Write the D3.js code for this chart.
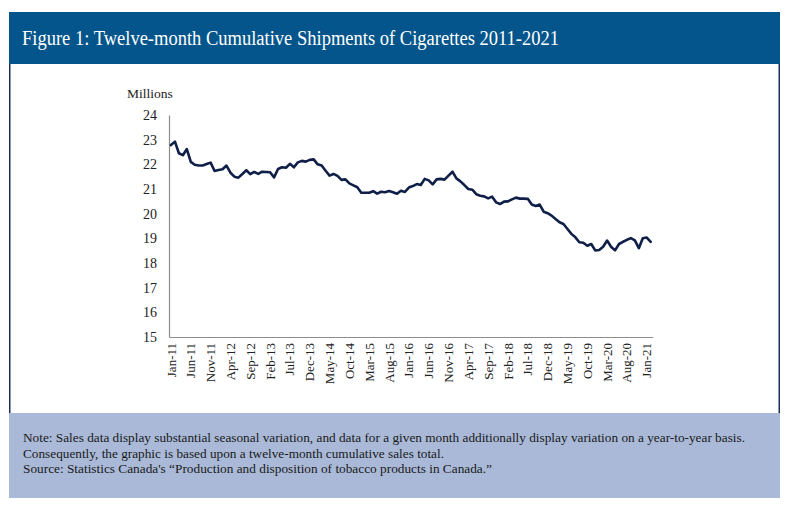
<!DOCTYPE html>
<html>
<head>
<meta charset="utf-8">
<script src="https://cdn.jsdelivr.net/npm/d3@7"></script>
<style>
  html, body { margin: 0; padding: 0; background: #ffffff; }
  svg { display: block; }
</style>
</head>
<body>
<svg id="chart" width="800" height="515"></svg>
<script>
// ---------- data ----------
const startMonth = "2011-01";
const endMonth = "2021-02";
const yTicks = [15, 16, 17, 18, 19, 20, 21, 22, 23, 24];
const tickEvery = 5;
const shipments = [
  // 2011
  22.78, 22.92, 22.45, 22.37, 22.62, 22.10, 21.98, 21.95, 21.95, 22.01, 22.07, 21.73,
  // 2012
  21.77, 21.80, 21.95, 21.66, 21.50, 21.46, 21.61, 21.76, 21.60, 21.69, 21.61, 21.70,
  // 2013
  21.69, 21.68, 21.47, 21.81, 21.88, 21.86, 22.02, 21.88, 22.08, 22.14, 22.11, 22.18,
  // 2014
  22.20, 22.00, 21.95, 21.74, 21.54, 21.61, 21.53, 21.37, 21.39, 21.23, 21.15, 21.07,
  // 2015
  20.85, 20.85, 20.85, 20.91, 20.81, 20.89, 20.87, 20.92, 20.87, 20.81, 20.93, 20.88,
  // 2016
  21.06, 21.12, 21.20, 21.16, 21.41, 21.35, 21.19, 21.39, 21.41, 21.38, 21.54, 21.70,
  // 2017
  21.43, 21.31, 21.16, 21.00, 20.97, 20.79, 20.73, 20.70, 20.62, 20.69, 20.46, 20.39,
  // 2018
  20.49, 20.50, 20.58, 20.65, 20.61, 20.61, 20.60, 20.37, 20.31, 20.37, 20.08, 20.02,
  // 2019
  19.92, 19.78, 19.65, 19.58, 19.38, 19.18, 19.04, 18.84, 18.82, 18.70, 18.77, 18.51,
  // 2020
  18.53, 18.66, 18.91, 18.66, 18.51, 18.77, 18.86, 18.94, 19.01, 18.92, 18.60, 19.00,
  // 2021
  19.03, 18.86
];
const titleText = "Figure 1: Twelve-month Cumulative Shipments of Cigarettes 2011-2021";
const yAxisTitle = "Millions";
const noteLines = [
  "Note: Sales data display substantial seasonal variation, and data for a given month additionally display variation on a year-to-year basis.",
  "Consequently, the graphic is based upon a twelve-month cumulative sales total."
];
const sourceText = "Source: Statistics Canada's \u201cProduction and disposition of tobacco products in Canada.\u201d";

// ---------- build ----------
const parseM = d3.timeParse("%Y-%m");
const months = d3.timeMonth.range(parseM(startMonth), d3.timeMonth.offset(parseM(endMonth), 1));
const data = months.map((m, i) => ({ date: m, value: shipments[i] }));
const fmt = d3.timeFormat("%b-%y");

const svg = d3.select("#chart");
const serif = "Liberation Serif, DejaVu Serif, serif";

// header band
svg.append("rect").attr("x", 9).attr("y", 12).attr("width", 771).attr("height", 52)
  .attr("fill", "#03558b");
svg.append("text").attr("x", 22).attr("y", 45)
  .attr("font-family", serif).attr("font-size", 20).attr("fill", "#ffffff")
  .attr("textLength", 537).attr("lengthAdjust", "spacingAndGlyphs")
  .text(titleText);

// white panel border
svg.append("path")
  .attr("d", "M9.75,64 V413 M779.25,64 V413")
  .attr("stroke", "#1c2f5a").attr("stroke-width", 1.5).attr("fill", "none");

// note box
svg.append("rect").attr("x", 9).attr("y", 413).attr("width", 771).attr("height", 85)
  .attr("fill", "#a9b9d7");
const noteG = svg.append("g").attr("font-family", serif).attr("font-size", 13).attr("fill", "#1a1a1a");
noteG.append("text").attr("x", 23).attr("y", 442).attr("textLength", 722)
  .attr("lengthAdjust", "spacingAndGlyphs").text(noteLines[0]);
noteG.append("text").attr("x", 23).attr("y", 458).attr("textLength", 421)
  .attr("lengthAdjust", "spacingAndGlyphs").text(noteLines[1]);
noteG.append("text").attr("x", 23).attr("y", 473).attr("textLength", 469)
  .attr("lengthAdjust", "spacingAndGlyphs").text(sourceText);

// scales
const x = d3.scaleBand().domain(months).range([169, 652.7]).padding(0);
const y = d3.scaleLinear().domain([15, 24]).range([337, 115]);

// y axis
const yAxis = d3.axisLeft(y).tickValues(yTicks).tickSize(0).tickPadding(12).tickFormat(d3.format("d"));
const yg = svg.append("g").attr("transform", "translate(169,0)").call(yAxis);
yg.select(".domain").attr("stroke", "#8c8c8c").attr("stroke-width", 1.2);
yg.selectAll("text").attr("font-family", serif).attr("font-size", 14).attr("fill", "#222");

// x axis
const xTickVals = months.filter((m, i) => i % tickEvery === 0);
const xAxis = d3.axisBottom(x).tickValues(xTickVals).tickSize(0).tickFormat(fmt);
const xg = svg.append("g").attr("transform", "translate(0,337)").call(xAxis);
xg.select(".domain").attr("stroke", "#8c8c8c").attr("stroke-width", 1.2);
xg.selectAll("text")
  .attr("font-family", serif).attr("font-size", 13).attr("fill", "#222")
  .attr("text-anchor", "end")
  .attr("transform", "rotate(-90)")
  .attr("x", -6).attr("y", 0).attr("dy", "0.35em");

// y axis title
svg.append("text").attr("x", 127).attr("y", 98)
  .attr("font-family", serif).attr("font-size", 13.5).attr("fill", "#222")
  .text(yAxisTitle);

// line
const line = d3.line()
  .x(d => x(d.date) + x.bandwidth() / 2)
  .y(d => y(d.value));
svg.append("path").datum(data)
  .attr("d", line)
  .attr("fill", "none")
  .attr("stroke", "#0f1f47")
  .attr("stroke-width", 2.6)
  .attr("stroke-linejoin", "round")
  .attr("stroke-linecap", "round");
</script>
</body>
</html>
